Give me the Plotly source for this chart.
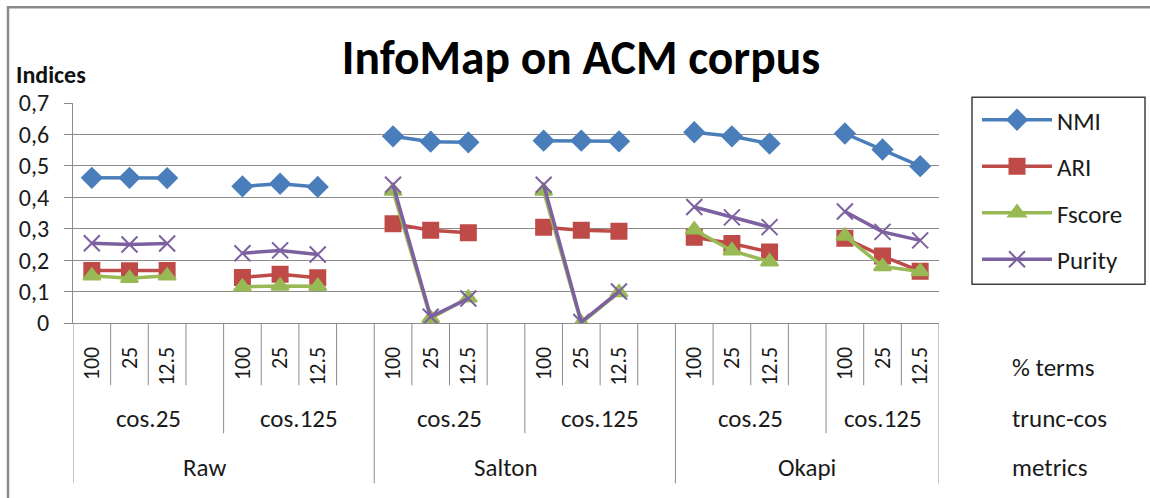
import plotly.graph_objects as go

# ── Data ───────────────────────────────────────────────────────────────────────

METRICS = ["Raw", "Salton", "Okapi"]
TRUNC = ["cos.25", "cos.125"]
TERMS = ["100", "25", "12.5"]

nmi = [0.462, 0.462, 0.461, 0.435, 0.443, 0.433,
       0.594, 0.577, 0.575, 0.580, 0.580, 0.578,
       0.607, 0.594, 0.571, 0.603, 0.552, 0.499]
ari = [0.167, 0.166, 0.167, 0.145, 0.155, 0.144,
       0.316, 0.295, 0.287, 0.305, 0.295, 0.292,
       0.273, 0.253, 0.226, 0.270, 0.213, 0.165]
fscore = [0.150, 0.142, 0.150, 0.115, 0.118, 0.117,
          0.420, 0.015, 0.080, 0.420, 0.000, 0.097,
          0.297, 0.230, 0.195, 0.277, 0.180, 0.164]
purity = [0.254, 0.250, 0.253, 0.222, 0.231, 0.218,
          0.440, 0.020, 0.078, 0.440, 0.003, 0.100,
          0.369, 0.336, 0.305, 0.355, 0.290, 0.263]

SERIES = [
    ("NMI", nmi, "#4a7ebb", "diamond", 15),
    ("ARI", ari, "#be4b48", "square", 15),
    ("Fscore", fscore, "#98b954", "triangle-up", 15),
    ("Purity", purity, "#7d60a0", "x-thin", 16),
]

FONT = "Carlito, Lato, sans-serif"
GRID = "#8c8c8c"
TXT = "#1a1a1a"

# ── Slot layout: 3 terms per group + an empty slot between groups ─────────────

groups = []          # (metric, trunc, first slot)
slot = 0
for m in METRICS:
    for t in TRUNC:
        groups.append((m, t, slot))
        slot += len(TERMS) + 1
n_slots = slot - 1   # no empty slot after the last group

tick_x, tick_text = [], []
for _, _, s in groups:
    for i, term in enumerate(TERMS):
        tick_x.append(s + i)
        tick_text.append(term)


def with_gaps(values):
    xs, ys = [], []
    k = 0
    for _, _, s in groups:
        for i in range(len(TERMS)):
            xs.append(s + i)
            ys.append(values[k])
            k += 1
        xs.append(s + len(TERMS))
        ys.append(None)
    return xs, ys


fig = go.Figure()
for name, vals, color, symbol, size in SERIES:
    xs, ys = with_gaps(vals)
    fig.add_trace(go.Scatter(
        x=xs, y=ys, name=name, mode="lines+markers",
        legendgroup=name,
        line=dict(color=color, width=3.5),
        marker=dict(symbol=symbol, size=size, color=color,
                    line=dict(color=color, width=2)),
        connectgaps=False,
    ))

# ── Category axis dividers and labels ─────────────────────────────────────────

def px_x(px):
    return (px - 73) / 866.0


def py(px):
    return (322.7 - px) / 220.0


metric_bounds = set()
trunc_bounds = set()
for idx, (m, t, s) in enumerate(groups):
    if idx % len(TRUNC) == 0:
        metric_bounds.add(s)
    else:
        trunc_bounds.add(s)
metric_bounds.add(n_slots)

shapes = []
for b in range(n_slots + 1):
    if b in metric_bounds:
        y_end = py(483)
    elif b in trunc_bounds:
        y_end = py(433)
    else:
        y_end = py(385)
    shapes.append(dict(type="line", xref="x", yref="paper",
                       x0=b - 0.5, x1=b - 0.5, y0=0, y1=y_end,
                       line=dict(color=GRID, width=1)))

# outer chart border and legend frame
shapes.append(dict(type="rect", xref="paper", yref="paper",
                   x0=px_x(8), x1=px_x(1165), y0=py(515), y1=py(7),
                   line=dict(color="#8a8a8a", width=2.5)))
shapes.append(dict(type="rect", xref="paper", yref="paper",
                   x0=px_x(972), x1=px_x(1145), y0=py(284), y1=py(97),
                   line=dict(color="#404040", width=1.5)))

annotations = []
for idx, (m, t, s) in enumerate(groups):
    last = idx == len(groups) - 1
    end = s + len(TERMS) - 1 if last else s + len(TERMS)
    annotations.append(dict(x=(s - 0.5 + end + 0.5) / 2, y=py(418),
                            xref="x", yref="paper", text=t, showarrow=False,
                            yanchor="middle",
                            font=dict(size=25, color=TXT, family=FONT)))

for i, m in enumerate(METRICS):
    start = groups[i * len(TRUNC)][2]
    end = groups[(i + 1) * len(TRUNC)][2] - 1 if i < len(METRICS) - 1 else n_slots
    annotations.append(dict(x=(start - 0.5 + end - 0.5) / 2, y=py(467),
                            xref="x", yref="paper", text=m, showarrow=False,
                            yanchor="middle",
                            font=dict(size=25, color=TXT, family=FONT)))

for label, ypx in [("% terms", 367), ("trunc-cos", 418), ("metrics", 467)]:
    annotations.append(dict(x=px_x(1010), y=py(ypx), xref="paper",
                            yref="paper", text=label, showarrow=False,
                            xanchor="left", yanchor="middle",
                            font=dict(size=25, color=TXT, family=FONT)))

annotations.append(dict(x=px_x(14), y=py(74), xref="paper", yref="paper",
                        text="<b>Indices</b>", showarrow=False,
                        xanchor="left", yanchor="middle",
                        font=dict(size=24, color="#111111", family=FONT)))

fig.update_layout(
    width=1150, height=498,
    margin=dict(l=73, r=211, t=103, b=175),
    paper_bgcolor="white", plot_bgcolor="white",
    separators=", ",
    font=dict(family=FONT, color=TXT, size=24),
    title=dict(text="<b>InfoMap on ACM corpus</b>", x=581 / 1150,
               xanchor="center", y=1 - 57 / 498, yanchor="middle",
               font=dict(size=47.5, color="#000000", family=FONT)),
    xaxis=dict(range=[-0.5, n_slots - 0.5], showgrid=False, zeroline=False,
               showline=True, linecolor=GRID, linewidth=1,
               tickmode="array", tickvals=tick_x, ticktext=tick_text,
               tickangle=-90, ticks="", ticklabelstandoff=14,
               tickfont=dict(size=22, color=TXT, family=FONT)),
    yaxis=dict(range=[0, 0.7], dtick=0.1, showgrid=True, gridcolor=GRID,
               gridwidth=1, zeroline=False, showline=True, linecolor=GRID,
               ticks="outside", ticklen=8, tickcolor=GRID,
               ticklabelstandoff=10,
               tickfont=dict(size=24, color=TXT, family=FONT)),
    legend=dict(xref="container", yref="container",
                x=977 / 1150, y=1 - 97 / 498, xanchor="left", yanchor="top",
                borderwidth=0, bgcolor="rgba(0,0,0,0)",
                font=dict(size=25, color=TXT, family=FONT),
                itemwidth=70, tracegroupgap=11, traceorder="grouped"),
    shapes=shapes,
    annotations=annotations,
)

fig.write_html("out.html", config={"displayModeBar": False},
               post_script="document.body.style.margin = '0';")
